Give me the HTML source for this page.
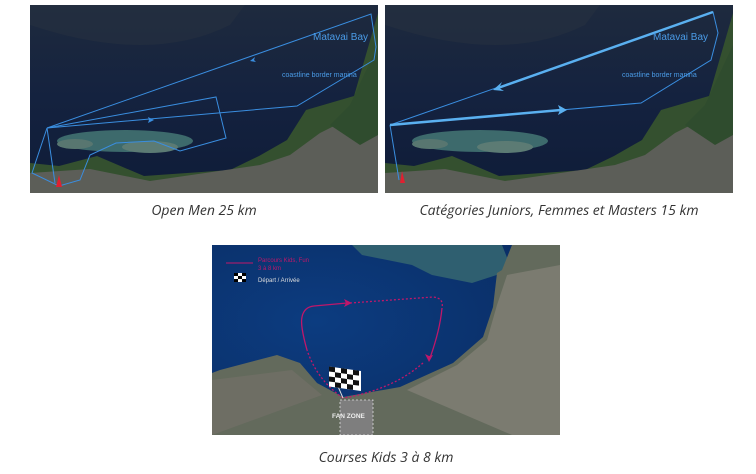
<!DOCTYPE html>
<html><head><meta charset="utf-8"><style>
body{margin:0;width:756px;height:474px;background:#fff;position:relative;overflow:hidden;font-family:"Open Sans","Liberation Sans",sans-serif}
.p{position:absolute}
.cap{position:absolute;font-style:italic;font-size:14px;color:#333;text-align:center}
</style></head><body>

<svg class="p" style="left:30px;top:5px" width="348" height="188" viewBox="0 0 348 188">
<defs>
<linearGradient id="sea" x1="0" y1="0" x2="0" y2="1"><stop offset="0" stop-color="#1e2a3e"/><stop offset="0.5" stop-color="#14223f"/><stop offset="1" stop-color="#0f1c38"/></linearGradient>
</defs>
<rect width="348" height="188" fill="url(#sea)"/>
<path d="M0,20 Q120,60 200,20 L215,0 L0,0Z" fill="#27313f" opacity="0.5"/>
<path d="M348,8 L324,91 L276,105 L257,135 L229,151 L200,165 L114,171 L67,151 L29,161 L0,158 L0,188 L348,188Z" fill="#34502f"/>
<path d="M0,168 L60,164 L120,176 L230,160 L260,150 L290,128 L310,118 L348,110 L348,188 L0,188Z" fill="#5c5e58"/>
<path d="M348,40 L320,100 L300,120 L330,140 L348,130Z" fill="#2f4c2e"/>
<ellipse cx="95" cy="136" rx="68" ry="11" fill="#3d6a6c"/>
<ellipse cx="120" cy="142" rx="28" ry="6" fill="#5c7b74"/>
<ellipse cx="45" cy="139" rx="18" ry="5" fill="#587670"/>
<g fill="none" stroke="#3a8ee0" stroke-width="1">
<path d="M17,123 L341,9 L346,42 L344,55 L267,101 L17,123"/>
<path d="M17,123 L186,92 L196,133 L150,146 L124,136 L86,138 L60,150 L50,175 L29,181 L2,168 L17,123"/>
<path d="M17,123 L25,178"/>
</g>
<path d="M124,115 l-6,-3 l1,3 l-1,3z" fill="#3a8ee0"/>
<path d="M220,56 l5,-4 l-1,3 l2,2z" fill="#3a8ee0"/>
<path d="M26,182 l3,-12 l3,12z" fill="#e02030"/>
<text x="283" y="35" font-family="Liberation Sans" font-size="10" fill="#4a9be6">Matavai Bay</text>
<text x="252" y="72" font-family="Liberation Sans" font-size="7" fill="#4a9be6">coastline border manina</text>
</svg>

<svg class="p" style="left:385px;top:5px" width="348" height="188" viewBox="0 0 348 188">
<rect width="348" height="188" fill="url(#sea)"/>
<path d="M0,20 Q120,60 200,20 L215,0 L0,0Z" fill="#27313f" opacity="0.5"/>
<path d="M348,8 L324,91 L276,105 L257,135 L229,151 L200,165 L114,171 L67,151 L29,161 L0,158 L0,188 L348,188Z" fill="#34502f"/>
<path d="M0,168 L60,164 L120,176 L230,160 L260,150 L290,128 L310,118 L348,110 L348,188 L0,188Z" fill="#5c5e58"/>
<path d="M348,40 L320,100 L300,120 L330,140 L348,130Z" fill="#2f4c2e"/>
<ellipse cx="95" cy="136" rx="68" ry="11" fill="#3d6a6c"/>
<ellipse cx="120" cy="142" rx="28" ry="6" fill="#5c7b74"/>
<ellipse cx="45" cy="139" rx="18" ry="5" fill="#587670"/>
<g fill="none" stroke="#3a8ee0" stroke-width="1">
<path d="M5,120 L328,7 L333,28 L326,55 L256,98 L5,120"/>
<path d="M5,120 L14,175"/>
</g>
<path d="M5,120 L176,105" stroke="#5ab0f0" stroke-width="2.5"/>
<path d="M328,7 L113,83" stroke="#5ab0f0" stroke-width="2.5"/>
<path d="M182,105 l-9,-5 l2,5 l-2,5z" fill="#5ab0f0"/>
<path d="M108,85 l9,-8 l-3,6 l5,3z" fill="#5ab0f0"/>
<path d="M15,178 l2,-12 l3,12z" fill="#e02030"/>
<text x="268" y="35" font-family="Liberation Sans" font-size="10" fill="#4a9be6">Matavai Bay</text>
<text x="237" y="72" font-family="Liberation Sans" font-size="7" fill="#4a9be6">coastline border manina</text>
</svg>

<svg class="p" style="left:212px;top:245px" width="348" height="190" viewBox="0 0 348 190">
<defs><radialGradient id="s3" cx="0.3" cy="0.4" r="0.8"><stop offset="0" stop-color="#0c3c80"/><stop offset="1" stop-color="#0a2c62"/></radialGradient></defs>
<rect width="348" height="190" fill="url(#s3)"/>
<path d="M140,0 L290,0 L300,25 L260,38 L220,30 L200,20 L150,10Z" fill="#2f5f70"/>
<path d="M348,0 L300,0 L290,25 L285,28 L281,62 L271,92 L241,118 L188,142 L131,152 L105,138 L88,118 L65,110 L8,125 L0,128 L0,190 L348,190Z" fill="#636a5c"/>
<path d="M348,20 L295,30 L285,60 L275,95 L245,120 L195,145 L300,190 L348,190Z" fill="#7b7b70"/>
<path d="M0,135 L80,125 L110,150 L0,190Z" fill="#6e6e64"/>
<rect x="128" y="155" width="33" height="35" fill="#7e7e7e" stroke="#ddd" stroke-dasharray="2,2" stroke-width="0.8"/>
<text x="120" y="173" font-family="Liberation Sans" font-size="6.5" font-weight="bold" fill="#eee">FAN ZONE</text>
<g fill="none" stroke="#c0176a" stroke-width="1.3">
<path d="M131,153 Q105,135 95,105" stroke-dasharray="2,2"/>
<path d="M95,105 Q88,80 90,72 Q92,62 102,61 L135,58"/>
<path d="M138,58 L221,52 Q232,53 230,63" stroke-dasharray="2,2"/>
<path d="M230,63 Q228,85 218,113"/>
<path d="M211,118 Q180,145 131,153" stroke-dasharray="2,2"/>
</g>
<path d="M140,58 l-8,-4 l2,4 l-2,4z M217,117 l-4,-8 l4,2 l4,-1z" fill="#c0176a"/>
<line x1="14" y1="18" x2="41" y2="18" stroke="#c0176a"/>
<text x="46" y="17" font-family="Liberation Sans" font-size="6" fill="#c0176a">Parcours Kids, Fun</text>
<text x="46" y="25" font-family="Liberation Sans" font-size="6" fill="#c0176a">3 à 8 km</text>
<rect x="22" y="28" width="12" height="9" fill="#fff"/><path d="M22,28h4v3h-4z M30,28h4v3h-4z M26,31h4v3h-4z M22,34h4v3h-4z M30,34h4v3h-4z" fill="#000"/>
<text x="46" y="37" font-family="Liberation Sans" font-size="6" fill="#ddd">Départ / Arrivée</text>
<line x1="118" y1="123" x2="131" y2="153" stroke="#ddd"/>
<rect x="117" y="122" width="32" height="20" fill="#fff" transform="skewY(8) translate(0,-17)"/>
<g fill="#111" transform="skewY(8) translate(0,-17)"><rect x="117" y="122" width="6" height="5"/><rect x="129" y="122" width="6" height="5"/><rect x="141" y="122" width="6" height="5"/><rect x="123" y="127" width="6" height="5"/><rect x="135" y="127" width="6" height="5"/><rect x="117" y="132" width="6" height="5"/><rect x="129" y="132" width="6" height="5"/><rect x="141" y="132" width="6" height="5"/><rect x="123" y="137" width="6" height="5"/><rect x="135" y="137" width="6" height="5"/></g>
</svg>

<div class="cap" style="left:30px;width:348px;top:201px">Open Men 25 km</div>
<div class="cap" style="left:385px;width:348px;top:201px">Catégories Juniors, Femmes et Masters 15 km</div>
<div class="cap" style="left:212px;width:348px;top:448px">Courses Kids 3 à 8 km</div>
</body></html>
